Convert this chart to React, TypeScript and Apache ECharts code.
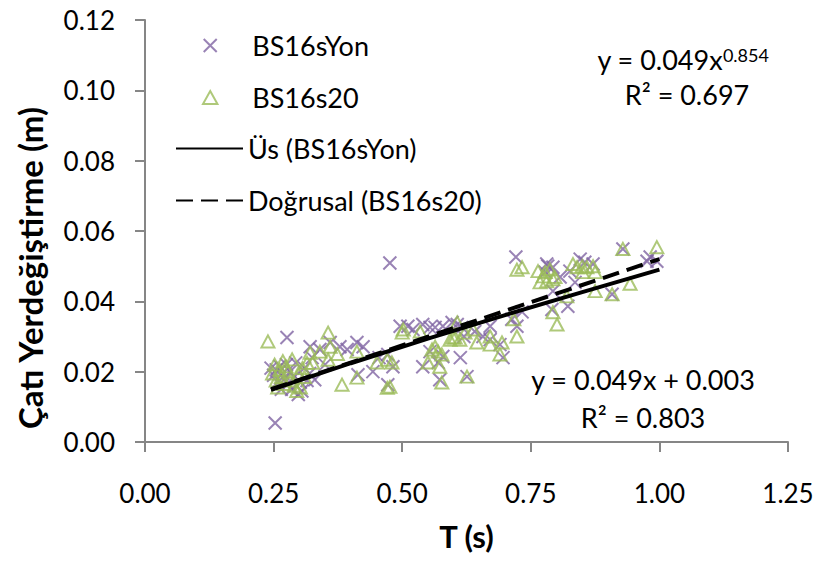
import React, { useEffect, useRef } from "react";
import * as echarts from "echarts";

// BS16sYon (x markers): [T (s), roof displacement (m)]
const BS16sYon: [number, number][] = [
  [0.253, 0.0054], [0.276, 0.0297], [0.245, 0.021], [0.25, 0.019], [0.255, 0.0205],
  [0.258, 0.017], [0.262, 0.0215], [0.265, 0.015], [0.268, 0.0195], [0.272, 0.018],
  [0.275, 0.022], [0.278, 0.0165], [0.282, 0.02], [0.285, 0.015], [0.29, 0.0185],
  [0.293, 0.0225], [0.298, 0.0135], [0.302, 0.017], [0.305, 0.0145], [0.31, 0.021],
  [0.315, 0.0175], [0.32, 0.0195], [0.325, 0.024], [0.321, 0.0271], [0.34, 0.0263],
  [0.36, 0.0283], [0.379, 0.0271], [0.393, 0.0263], [0.412, 0.0283], [0.424, 0.0271],
  [0.33, 0.0177], [0.35, 0.022], [0.414, 0.0191], [0.443, 0.02], [0.455, 0.024],
  [0.472, 0.0249], [0.472, 0.0163], [0.482, 0.0214], [0.476, 0.0509], [0.496, 0.0329],
  [0.511, 0.0329], [0.521, 0.032], [0.54, 0.0334], [0.554, 0.0326], [0.564, 0.0326],
  [0.579, 0.0329], [0.597, 0.034], [0.607, 0.0334], [0.616, 0.0326], [0.554, 0.0257],
  [0.54, 0.0214], [0.57, 0.0226], [0.579, 0.0243], [0.573, 0.0177], [0.626, 0.0186],
  [0.641, 0.0314], [0.657, 0.03], [0.671, 0.0291], [0.671, 0.0329], [0.696, 0.024],
  [0.69, 0.0277], [0.713, 0.0349], [0.723, 0.0329], [0.733, 0.037], [0.721, 0.0526],
  [0.783, 0.05], [0.778, 0.0483], [0.807, 0.0469], [0.781, 0.0506], [0.793, 0.0497],
  [0.826, 0.0486], [0.846, 0.052], [0.855, 0.0511], [0.871, 0.0506], [0.836, 0.0454],
  [0.793, 0.0429], [0.822, 0.0386], [0.791, 0.0377], [0.929, 0.0549], [0.908, 0.042],
  [0.976, 0.0514], [0.982, 0.0526], [0.995, 0.0514], [0.613, 0.024], [0.62, 0.03],
];

// BS16s20 (triangle markers)
const BS16s20: [number, number][] = [
  [0.239, 0.0286], [0.356, 0.0311], [0.248, 0.0195], [0.252, 0.022], [0.255, 0.0175],
  [0.258, 0.0155], [0.262, 0.0205], [0.265, 0.0185], [0.268, 0.023], [0.27, 0.0165],
  [0.274, 0.0215], [0.278, 0.02], [0.282, 0.0175], [0.286, 0.0235], [0.29, 0.016],
  [0.295, 0.0145], [0.298, 0.0195], [0.302, 0.0155], [0.306, 0.021], [0.31, 0.0185],
  [0.315, 0.0225], [0.321, 0.0254], [0.34, 0.0257], [0.36, 0.0271], [0.374, 0.025],
  [0.356, 0.0234], [0.326, 0.0225], [0.412, 0.0257], [0.383, 0.0163], [0.412, 0.0183],
  [0.451, 0.0226], [0.471, 0.0234], [0.471, 0.0154], [0.48, 0.0226], [0.476, 0.0157],
  [0.5, 0.0311], [0.502, 0.032], [0.535, 0.0314], [0.607, 0.034], [0.593, 0.0291],
  [0.612, 0.0291], [0.599, 0.0297], [0.638, 0.032], [0.645, 0.0283], [0.671, 0.0277],
  [0.694, 0.0283], [0.558, 0.0263], [0.57, 0.0257], [0.577, 0.0249], [0.564, 0.0271],
  [0.55, 0.0226], [0.573, 0.0214], [0.577, 0.0169], [0.626, 0.0186], [0.603, 0.0297],
  [0.622, 0.0311], [0.69, 0.0249], [0.671, 0.03], [0.723, 0.03], [0.717, 0.0349],
  [0.723, 0.049], [0.733, 0.0497], [0.764, 0.0486], [0.774, 0.0471], [0.787, 0.0491],
  [0.793, 0.0463], [0.781, 0.0457], [0.768, 0.0454], [0.82, 0.0414], [0.793, 0.0369],
  [0.801, 0.0334], [0.778, 0.0483], [0.797, 0.0469], [0.832, 0.0506], [0.84, 0.0497],
  [0.85, 0.05], [0.859, 0.0497], [0.871, 0.05], [0.875, 0.0483], [0.851, 0.0483],
  [0.875, 0.0429], [0.908, 0.042], [0.943, 0.045], [0.929, 0.0549], [0.995, 0.0554],
];

// Trend lines
const powerTrend: [number, number][] = [
  [0.245, 0.0148], [0.4, 0.0224], [0.55, 0.0294], [0.7, 0.0361], [0.85, 0.0426], [1.0, 0.049],
];
const linearTrend: [number, number][] = [
  [0.245, 0.015], [1.0, 0.052],
];

const seriesNames = ["BS16sYon", "BS16s20", "Üs (BS16sYon)", "Doğrusal (BS16s20)"];
const powerEquation = ["y = 0.049x", "0.854", "R² = 0.697"];
const linearEquation = ["y = 0.049x + 0.003", "R² = 0.803"];
const yTitle = "Çatı Yerdeğiştirme (m)";
const xTitle = "T (s)";

const FONT = "Lato";
const AXIS_GRAY = "#868686";
const PURPLE = "#8064A2";
const GREEN = "#9BBB59";
const CROSS = "path://M0,0L10,10M10,0L0,10";
const TRIANGLE = "path://M5,0L10,9L0,9Z";

export default function App() {
  const ref = useRef<HTMLDivElement>(null);

  useEffect(() => {
    if (!ref.current) return;
    const chart = echarts.init(ref.current, undefined, { renderer: "svg" });
    const legendText = { fontFamily: FONT, fontSize: 27, color: "#000" };
    const eqStyle = { fontFamily: FONT, fontSize: 27, fill: "#000", align: "center", verticalAlign: "middle" };

    chart.setOption({
      animation: false,
      backgroundColor: "#fff",
      grid: { left: 145, right: 31, top: 20, bottom: 121 },
      legend: [
        {
          orient: "vertical",
          left: 202,
          top: 32,
          padding: 0,
          itemWidth: 74,
          itemHeight: 13,
          itemGap: 25,
          symbolKeepAspect: true,
          selectedMode: false,
          data: [
            { name: seriesNames[0], icon: CROSS },
            { name: seriesNames[1], icon: TRIANGLE },
          ],
          textStyle: legendText,
        },
        {
          orient: "vertical",
          left: 175,
          top: 135,
          padding: 0,
          itemWidth: 67,
          itemHeight: 13,
          itemGap: 25,
          selectedMode: false,
          itemStyle: { opacity: 0 },
          data: [seriesNames[2], seriesNames[3]],
          textStyle: legendText,
        },
      ],
      xAxis: {
        type: "value",
        min: 0,
        max: 1.25,
        interval: 0.25,
        name: xTitle,
        nameLocation: "middle",
        nameGap: 78,
        nameTextStyle: { fontFamily: FONT, fontSize: 31, fontWeight: "bold", color: "#000" },
        axisLine: { show: true, lineStyle: { color: AXIS_GRAY, width: 2 } },
        axisTick: { show: true, inside: false, length: 10, lineStyle: { color: AXIS_GRAY, width: 2 } },
        axisLabel: {
          margin: 38,
          fontFamily: FONT,
          fontSize: 26,
          color: "#000",
          formatter: (v: number) => v.toFixed(2),
        },
        splitLine: { show: false },
      },
      yAxis: {
        type: "value",
        min: 0,
        max: 0.12,
        interval: 0.02,
        axisLine: { show: true, lineStyle: { color: AXIS_GRAY, width: 2 } },
        axisTick: { show: true, inside: false, length: 10, lineStyle: { color: AXIS_GRAY, width: 2 } },
        axisLabel: {
          margin: 30,
          fontFamily: FONT,
          fontSize: 26,
          color: "#000",
          formatter: (v: number) => v.toFixed(2),
        },
        splitLine: { show: false },
      },
      series: [
        {
          name: seriesNames[0],
          type: "scatter",
          data: BS16sYon,
          symbol: CROSS,
          symbolSize: 13,
          symbolKeepAspect: true,
          itemStyle: { color: "transparent", borderColor: PURPLE, borderWidth: 2 },
          emphasis: { disabled: true },
        },
        {
          name: seriesNames[1],
          type: "scatter",
          data: BS16s20,
          symbol: "triangle",
          symbolSize: [13, 12],
          itemStyle: { color: "transparent", borderColor: GREEN, borderWidth: 2 },
          emphasis: { disabled: true },
        },
        {
          name: seriesNames[2],
          type: "line",
          data: powerTrend,
          symbol: "none",
          smooth: false,
          color: "#000",
          lineStyle: { color: "#000", width: 4, type: "solid" },
          emphasis: { disabled: true },
          z: 5,
        },
        {
          name: seriesNames[3],
          type: "line",
          data: linearTrend,
          symbol: "none",
          color: "#000",
          lineStyle: { color: "#000", width: 4, type: [17, 8] },
          emphasis: { disabled: true },
          z: 5,
        },
      ],
      graphic: [
        {
          type: "text",
          x: 30,
          y: 268,
          rotation: Math.PI / 2,
          style: {
            text: yTitle,
            fontFamily: FONT,
            fontSize: 33,
            fontWeight: "bold",
            fill: "#000",
            align: "center",
            verticalAlign: "middle",
          },
        },
        {
          type: "text",
          x: 683,
          y: 59,
          style: {
            text: `{m|${powerEquation[0]}}{s|${powerEquation[1]}}`,
            fill: "#000",
            align: "center",
            verticalAlign: "middle",
            rich: {
              m: { fontFamily: FONT, fontSize: 27, fill: "#000", verticalAlign: "bottom" },
              s: { fontFamily: FONT, fontSize: 18, fill: "#000", verticalAlign: "top" },
            },
          },
        },
        { type: "text", x: 687, y: 94, style: { ...eqStyle, text: powerEquation[2] } },
        { type: "text", x: 643, y: 379, style: { ...eqStyle, text: linearEquation[0] } },
        { type: "text", x: 643, y: 417, style: { ...eqStyle, text: linearEquation[1] } },
      ],
    });
    return () => chart.dispose();
  }, []);

  return (
    <div
      ref={ref}
      style={{ position: "fixed", left: 0, top: 0, width: 819, height: 563, background: "#fff" }}
    />
  );
}
